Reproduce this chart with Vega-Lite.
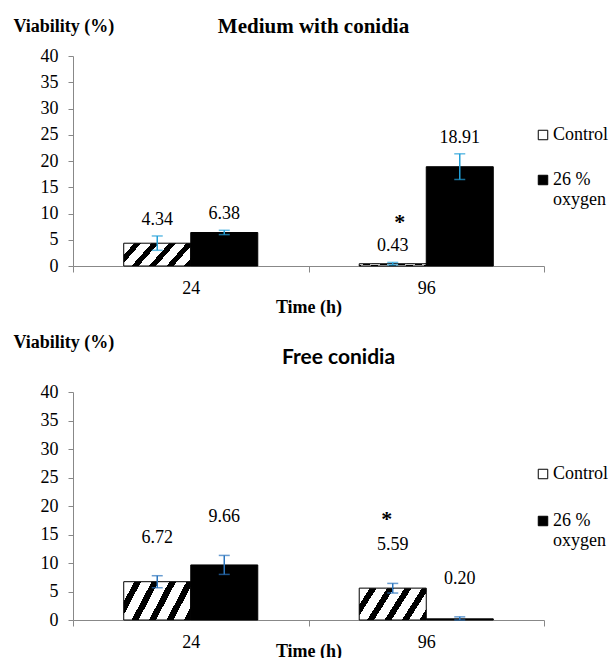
{
  "$schema": "https://vega.github.io/schema/vega-lite/v6.json",
  "padding": {"left": 13, "top": 16, "right": 0, "bottom": 0},
  "spacing": 17,
  "datasets": {
    "medium": [
      {"time": "24", "treatment": "Control", "value": 4.34, "lo": 2.99, "hi": 5.72, "sig": ""},
      {"time": "24", "treatment": "26 % oxygen", "value": 6.38, "lo": 5.98, "hi": 6.8, "sig": ""},
      {"time": "96", "treatment": "Control", "value": 0.43, "lo": 0.2, "hi": 0.68, "sig": "*"},
      {"time": "96", "treatment": "26 % oxygen", "value": 18.91, "lo": 16.48, "hi": 21.37, "sig": ""}
    ],
    "free": [
      {"time": "24", "treatment": "Control", "value": 6.72, "lo": 5.66, "hi": 7.77, "sig": ""},
      {"time": "24", "treatment": "26 % oxygen", "value": 9.66, "lo": 8.0, "hi": 11.33, "sig": ""},
      {"time": "96", "treatment": "Control", "value": 5.59, "lo": 4.73, "hi": 6.42, "sig": "*"},
      {"time": "96", "treatment": "26 % oxygen", "value": 0.2, "lo": 0.0, "hi": 0.55, "sig": ""}
    ]
  },
  "resolve": {"scale": {"fill": "independent"}, "legend": {"fill": "independent"}},
  "vconcat": [
    {
      "data": {"name": "medium"},
      "width": 471,
      "height": 210,
      "title": {"text": "Medium with conidia", "font": "Liberation Serif", "fontSize": 21, "fontWeight": "bold", "color": "black", "baseline": "middle", "offset": -30.5, "frame": "group", "anchor": "middle", "dx": 5},
      "encoding": {
        "x": {"field": "time", "type": "nominal", "scale": {"paddingInner": 0, "paddingOuter": 0}, "axis": {"title": "Time (h)", "titleY": 41}},
        "xOffset": {"field": "treatment", "type": "nominal", "sort": ["Control", "26 % oxygen"], "scale": {"paddingOuter": 0.757, "paddingInner": 0}},
        "y": {"field": "value", "type": "quantitative", "title": "Viability (%)", "scale": {"domain": [0, 40]}, "axis": {"titleY": -29.5}}
      },
      "layer": [
        {
          "mark": {"type": "bar", "opacity": 0},
          "encoding": {
            "fill": {"field": "treatment", "type": "nominal", "sort": ["Control", "26 % oxygen"], "scale": {"domain": ["Control", "26 % oxygen"], "range": ["white", "black"]},
              "legend": {"orient": "none", "legendX": 461, "legendY": 70, "rowPadding": 27,
                "labelExpr": "datum.label == '26 % oxygen' ? ['26 %', 'oxygen'] : datum.label",
                "encode": {"symbols": {"update": {"opacity": {"value": 1}, "stroke": {"value": "black"}, "strokeWidth": {"value": 1}, "fill": {"signal": "datum.value == 'Control' ? {gradient: 'linear', x1: 1, y1: 0, x2: 0, y2: 1, stops: [{offset: 0, color: 'white'}, {offset: 0.62, color: 'white'}, {offset: 0.62, color: 'black'}, {offset: 1, color: 'black'}]} : 'black'"}}}}}}
          }
        },
        {
          "transform": [{"filter": "datum.treatment == 'Control'"}],
          "mark": {"type": "bar", "stroke": "black", "strokeWidth": 1,
            "fill": {"gradient": "linear", "x1": 0, "y1": 0, "x2": 1.193, "y2": 0.358, "stops": [
              {"offset": 0, "color": "white"}, {"offset": 0.12, "color": "white"}, {"offset": 0.12, "color": "black"}, {"offset": 0.2, "color": "black"},
              {"offset": 0.2, "color": "white"}, {"offset": 0.32, "color": "white"}, {"offset": 0.32, "color": "black"}, {"offset": 0.4, "color": "black"},
              {"offset": 0.4, "color": "white"}, {"offset": 0.52, "color": "white"}, {"offset": 0.52, "color": "black"}, {"offset": 0.6, "color": "black"},
              {"offset": 0.6, "color": "white"}, {"offset": 0.72, "color": "white"}, {"offset": 0.72, "color": "black"}, {"offset": 0.8, "color": "black"},
              {"offset": 0.8, "color": "white"}, {"offset": 0.92, "color": "white"}, {"offset": 0.92, "color": "black"}, {"offset": 1, "color": "black"}
            ]}}
        },
        {
          "transform": [{"filter": "datum.treatment != 'Control'"}],
          "mark": {"type": "bar", "stroke": "black", "strokeWidth": 1, "fill": "black"}
        },
        {
          "mark": {"type": "rule", "color": "#22a0d8", "strokeWidth": 1.5},
          "encoding": {"y": {"field": "lo", "type": "quantitative"}, "y2": {"field": "hi"}}
        },
        {
          "mark": {"type": "tick", "color": "#22a0d8", "size": 11, "thickness": 1.5},
          "encoding": {"y": {"field": "hi", "type": "quantitative"}}
        },
        {
          "mark": {"type": "tick", "color": "#22a0d8", "size": 11, "thickness": 1.5},
          "encoding": {"y": {"field": "lo", "type": "quantitative"}}
        },
        {
          "mark": {"type": "text", "font": "Liberation Serif", "fontSize": 18, "color": "black", "dy": -16, "baseline": "middle"},
          "encoding": {"y": {"field": "hi", "type": "quantitative"}, "text": {"field": "value", "type": "quantitative", "format": ".2f"}}
        },
        {
          "transform": [{"filter": "datum.sig != ''"}],
          "mark": {"type": "text", "font": "Liberation Serif", "fontSize": 22, "fontWeight": "bold", "color": "black", "dy": -40, "dx": 7, "baseline": "middle"},
          "encoding": {"y": {"field": "hi", "type": "quantitative"}, "text": {"field": "sig", "type": "nominal"}}
        }
      ]
    },
    {
      "data": {"name": "free"},
      "width": 471,
      "height": 228,
      "title": {"text": "Free conidia", "font": "Lato", "fontSize": 21, "fontWeight": "bold", "color": "black", "baseline": "middle", "offset": -45.5, "frame": "group", "anchor": "middle", "dx": 30},
      "encoding": {
        "x": {"field": "time", "type": "nominal", "scale": {"paddingInner": 0, "paddingOuter": 0}, "axis": {"title": "Time (h)", "titleY": 31}},
        "xOffset": {"field": "treatment", "type": "nominal", "sort": ["Control", "26 % oxygen"], "scale": {"paddingOuter": 0.757, "paddingInner": 0}},
        "y": {"field": "value", "type": "quantitative", "title": "Viability (%)", "scale": {"domain": [0, 40]}, "axis": {"titleY": -49.5}}
      },
      "layer": [
        {
          "mark": {"type": "bar", "opacity": 0},
          "encoding": {
            "fill": {"field": "treatment", "type": "nominal", "sort": ["Control", "26 % oxygen"], "scale": {"domain": ["Control", "26 % oxygen"], "range": ["white", "black"]},
              "legend": {"orient": "none", "legendX": 461, "legendY": 73, "rowPadding": 29,
                "labelExpr": "datum.label == '26 % oxygen' ? ['26 %', 'oxygen'] : datum.label",
                "encode": {"symbols": {"update": {"opacity": {"value": 1}, "stroke": {"value": "black"}, "strokeWidth": {"value": 1}, "fill": {"signal": "datum.value == 'Control' ? {gradient: 'linear', x1: 1, y1: 0, x2: 0, y2: 1, stops: [{offset: 0, color: 'white'}, {offset: 0.62, color: 'white'}, {offset: 0.62, color: 'black'}, {offset: 1, color: 'black'}]} : 'black'"}}}}}}
          }
        },
        {
          "transform": [{"filter": "datum.treatment == 'Control'"}],
          "mark": {"type": "bar", "stroke": "black", "strokeWidth": 1,
            "fill": {"gradient": "linear", "x1": 0, "y1": 0, "x2": 1.193, "y2": 0.358, "stops": [
              {"offset": 0, "color": "white"}, {"offset": 0.12, "color": "white"}, {"offset": 0.12, "color": "black"}, {"offset": 0.2, "color": "black"},
              {"offset": 0.2, "color": "white"}, {"offset": 0.32, "color": "white"}, {"offset": 0.32, "color": "black"}, {"offset": 0.4, "color": "black"},
              {"offset": 0.4, "color": "white"}, {"offset": 0.52, "color": "white"}, {"offset": 0.52, "color": "black"}, {"offset": 0.6, "color": "black"},
              {"offset": 0.6, "color": "white"}, {"offset": 0.72, "color": "white"}, {"offset": 0.72, "color": "black"}, {"offset": 0.8, "color": "black"},
              {"offset": 0.8, "color": "white"}, {"offset": 0.92, "color": "white"}, {"offset": 0.92, "color": "black"}, {"offset": 1, "color": "black"}
            ]}}
        },
        {
          "transform": [{"filter": "datum.treatment != 'Control'"}],
          "mark": {"type": "bar", "stroke": "black", "strokeWidth": 1, "fill": "black"}
        },
        {
          "mark": {"type": "rule", "color": "#2a74bd", "strokeWidth": 1.5},
          "encoding": {"y": {"field": "lo", "type": "quantitative"}, "y2": {"field": "hi"}}
        },
        {
          "mark": {"type": "tick", "color": "#2a74bd", "size": 11, "thickness": 1.5},
          "encoding": {"y": {"field": "hi", "type": "quantitative"}}
        },
        {
          "mark": {"type": "tick", "color": "#2a74bd", "size": 11, "thickness": 1.5},
          "encoding": {"y": {"field": "lo", "type": "quantitative"}}
        },
        {
          "mark": {"type": "text", "font": "Liberation Serif", "fontSize": 18, "color": "black", "dy": -38, "baseline": "middle"},
          "encoding": {"y": {"field": "hi", "type": "quantitative"}, "text": {"field": "value", "type": "quantitative", "format": ".2f"}}
        },
        {
          "transform": [{"filter": "datum.sig != ''"}],
          "mark": {"type": "text", "font": "Liberation Serif", "fontSize": 22, "fontWeight": "bold", "color": "black", "dy": -64, "dx": -6, "baseline": "middle"},
          "encoding": {"y": {"field": "hi", "type": "quantitative"}, "text": {"field": "sig", "type": "nominal"}}
        }
      ]
    }
  ],
  "config": {
    "font": "Liberation Serif",
    "view": {"stroke": null},
    "title": {"font": "Liberation Serif"},
    "axis": {"domainColor": "#888888", "tickColor": "#888888", "labelFont": "Liberation Serif", "labelFontSize": 18, "labelColor": "black", "titleFont": "Liberation Serif", "titleFontSize": 18, "titleFontWeight": "bold", "titleColor": "black", "grid": false},
    "axisY": {"titleAngle": 0, "titleX": -60, "titleAlign": "left", "titleBaseline": "middle", "values": [0, 5, 10, 15, 20, 25, 30, 35, 40], "tickSize": 5, "labelPadding": 10},
    "axisX": {"labelAngle": 0, "tickBand": "extent", "tickSize": 6, "labelPadding": 7, "titleBaseline": "middle"},
    "legend": {"title": null, "symbolType": "square", "symbolSize": 90, "symbolStrokeColor": "black", "symbolStrokeWidth": 1, "labelFont": "Liberation Serif", "labelFontSize": 18, "labelColor": "black", "labelOffset": 1}
  }
}
